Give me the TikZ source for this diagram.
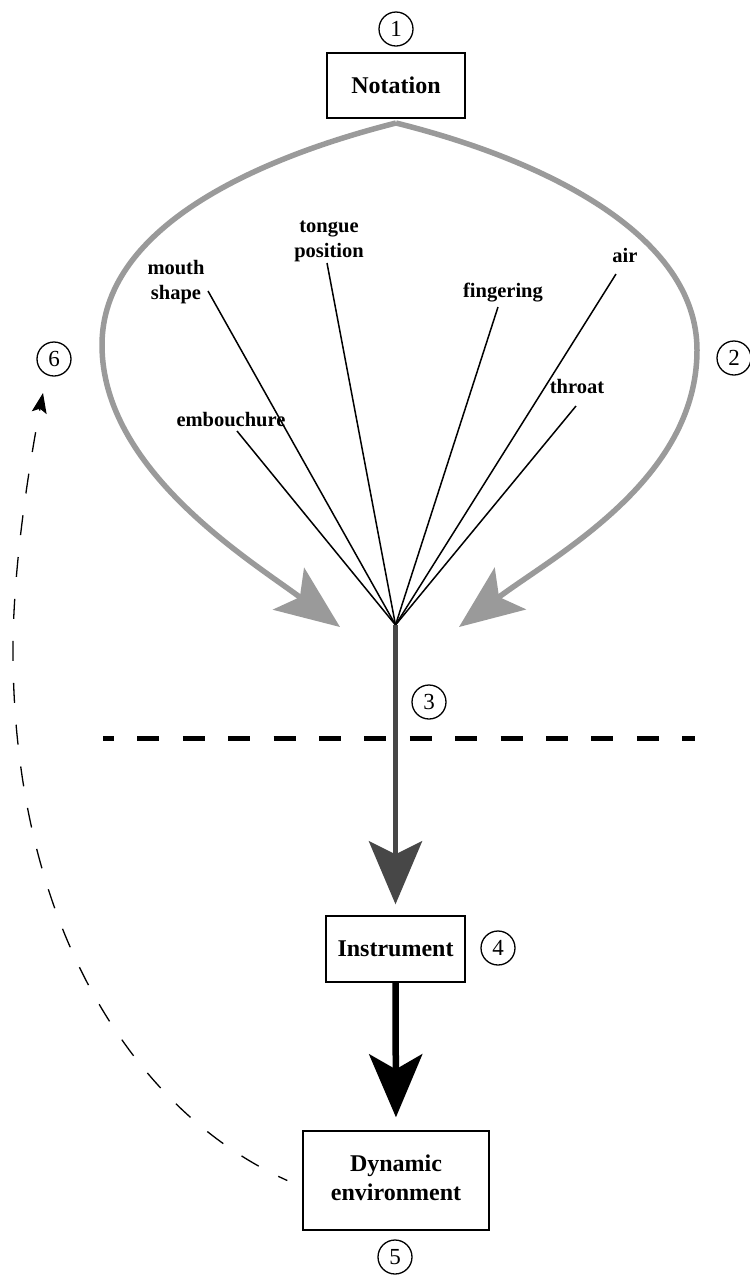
\documentclass[tikz,border=0pt]{standalone}
\usepackage{fontspec}
\setmainfont{Liberation Serif}
\usetikzlibrary{arrows.meta}
\definecolor{loopgray}{HTML}{9A9A9A}
\definecolor{shaftgray}{HTML}{474747}

\begin{document}
\begin{tikzpicture}[x=1pt,y=-1pt,
  box/.style={draw,line width=1.4pt,inner sep=0pt,align=center,
    font=\fontsize{24}{29}\selectfont\bfseries},
  num/.style={circle,draw,line width=1.3pt,minimum size=34pt,inner sep=0pt,
    font=\fontsize{23}{23}\selectfont},
  lbl/.style={inner sep=0pt,align=center,anchor=base,
    font=\fontsize{20.5}{25}\selectfont\bfseries},
  fan/.style={line width=1.5pt},
  loop/.style={draw=loopgray,line width=5.5pt,
    -{Stealth[length=64pt,width=52pt,inset=14pt,fill=loopgray]}},
  feed/.style={draw=shaftgray,line width=5pt,
    -{Stealth[length=63pt,width=53pt,inset=13pt,fill=shaftgray]}},
  sound/.style={draw=black,line width=6.5pt,
    -{Stealth[length=63pt,width=53pt,inset=15pt]}},
  divider/.style={line width=5pt,dash pattern=on 22pt off 23.4pt,dash phase=11pt},
  response/.style={line width=1.3pt,dash pattern=on 20pt off 22pt,dash phase=10pt,
    -{Stealth[length=20pt,width=15pt,inset=4pt]}}
]
\useasboundingbox (0,0) rectangle (750,1278);

% main boxes
\node[box,minimum width=138pt,minimum height=65pt] (nota) at (396,85.5) {Notation};
\node[box,minimum width=139pt,minimum height=66pt] (inst) at (395.5,949) {Instrument};
\node[box,minimum width=186pt,minimum height=99pt] (dyn) at (396,1180.5)
  {Dynamic\\environment\vphantom{y}};

% numbered stages
\node[num] (n1) at (396,29) {1};
\node[num] (n2) at (734,358) {2};
\node[num] (n3) at (429,702) {3};
\node[num] (n4) at (498,948) {4};
\node[num] (n5) at (395,1257) {5};
\node[num] (n6) at (54,359) {6};

% performance parameters (multi-line labels sit on their last line)
\node[lbl] (mouth) at (176,299) {mouth\\shape};
\node[lbl] (tongue) at (329,257) {tongue\\position};
\node[lbl] (emb) at (231,426) {embouchure};
\node[lbl] (fing) at (503,297) {fingering};
\node[lbl] (air) at (625,262) {air};
\node[lbl] (throat) at (577,393) {throat};

% hub where the parameters meet
\coordinate (hub) at (395.5,625);
\coordinate (embE) at (237,431);
\coordinate (mouthE) at (208,291);
\coordinate (tongueE) at (327,263);
\coordinate (fingE) at (498,307);
\coordinate (airE) at (616,274);
\coordinate (throatE) at (576,406);
\foreach \e in {embE,mouthE,tongueE,fingE,airE,throatE}
  \draw[fan] (\e) -- (hub);

% interpretation loops from the notation
\coordinate (apex) at (396,123);
\coordinate (lt) at (340,627);
\coordinate (rt) at (459,627);
\draw[loop] (apex) .. controls (250,160) and (102,230) .. (102,345)
  .. controls (102,470) and (250,560) .. (lt);
\draw[loop] (apex) .. controls (545,160) and (697,235) .. (697,350)
  .. controls (697,480) and (555,555) .. (rt);

% action on the instrument
\draw[feed,shorten >=11pt] (hub) -- (inst.north);
\draw[sound,shorten >=13pt] (inst.south) -- (dyn.north);

% body / instrument boundary
\coordinate (divL) at (103,738);
\coordinate (divR) at (695,738);
\draw[divider] (divL) -- (divR);

% feedback from the environment
\coordinate (fb) at (43,393);
\draw[response] ([xshift=-15pt]dyn.west) .. controls (130,1110) and (13,920) .. (13,650)
  .. controls (13,560) and (32,450) .. (fb);
\end{tikzpicture}
\end{document}
